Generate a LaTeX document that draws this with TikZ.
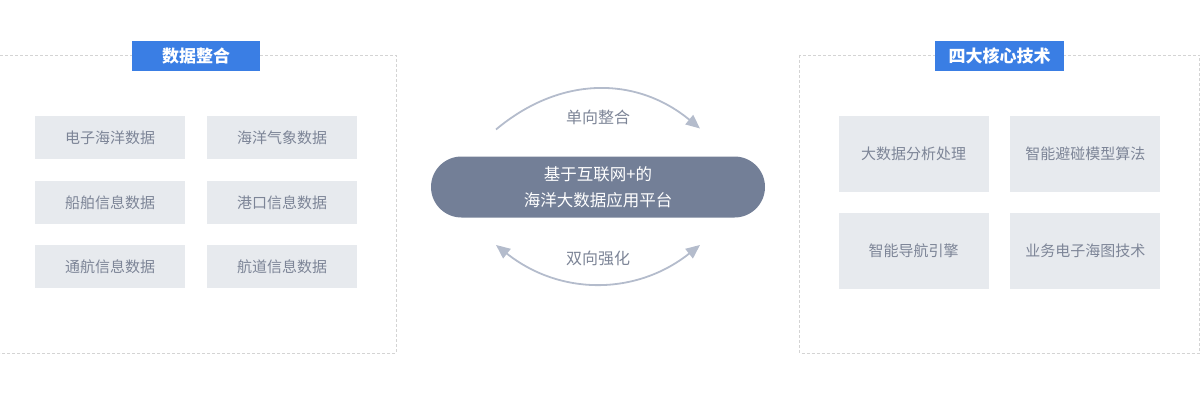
\documentclass[tikz,border=0pt]{standalone}
\usepackage{fontspec}
\setmainfont{Noto Sans CJK SC}
\usetikzlibrary{arrows.meta}

\definecolor{titleblue}{HTML}{3A7EE4}
\definecolor{boxgray}{HTML}{E7EAEE}
\definecolor{txtgray}{HTML}{7D8597}
\definecolor{platgray}{HTML}{737F97}
\definecolor{arcgray}{HTML}{B4BCCC}
\definecolor{dashgray}{HTML}{D4D4D4}

\begin{document}
\begin{tikzpicture}[
  x=1pt, y=-1pt,
  panel/.style={draw=dashgray, line width=0.8pt, dash pattern=on 3pt off 2pt},
  ttl/.style={fill=titleblue, text=white, font=\fontsize{17}{20}\selectfont\bfseries, minimum width=128pt, minimum height=30pt, inner sep=0pt},
  dbox/.style={fill=boxgray, text=txtgray, font=\fontsize{15}{18}\selectfont, minimum width=150pt, minimum height=43pt, inner sep=0pt},
  tbox/.style={dbox, minimum height=76pt},
  plat/.style={fill=platgray, text=white, rounded corners=30.5pt, minimum width=334pt, minimum height=61pt, align=center, font=\fontsize{16.5}{26}\selectfont, inner sep=0pt},
  flow/.style={draw=arcgray, line width=1.8pt, >={Triangle[length=14pt,width=12pt]}},
  lbl/.style={text=txtgray, font=\fontsize{16}{19}\selectfont},
]
\useasboundingbox (0,0) rectangle (1201,404);

% data side
\draw [panel] (0,55) -- (396,55) -- (396,353) -- (0,353);
\node [ttl] (dtitle) at (196,56) {数据整合};

\node [dbox] (d1) at (110,137.5) {电子海洋数据};
\node [dbox] (d2) at (282,137.5) {海洋气象数据};
\node [dbox] (d3) at (110,202.3) {船舶信息数据};
\node [dbox] (d4) at (282,202.3) {港口信息数据};
\node [dbox] (d5) at (110,266.7) {通航信息数据};
\node [dbox] (d6) at (282,266.7) {航道信息数据};

% platform
\node [plat] (plat) at (598,187) {基于互联网+的\\海洋大数据应用平台};

\coordinate (ua) at (496,129.5);
\coordinate (ub) at (700,128.5);
\coordinate (la) at (496,245);
\coordinate (lb) at (700,245);
\draw [flow, ->] (ua) .. controls (560,75.8) and (636,75.8) .. (ub);
\draw [flow, <->] (la) .. controls (560,295.7) and (636,295.7) .. (lb);
\node [lbl] (one) at (598,117) {单向整合};
\node [lbl] (two) at (598,258) {双向强化};

% tech side
\draw [panel] (799.5,55) rectangle (1199.5,353);
\node [ttl, minimum width=129pt] (ttitle) at (999.5,56) {四大核心技术};

\node [tbox] (t1) at (913.5,154) {大数据分析处理};
\node [tbox] (t2) at (1085.3,154) {智能避碰模型算法};
\node [tbox] (t3) at (913.5,250.7) {智能导航引擎};
\node [tbox] (t4) at (1085.3,250.7) {业务电子海图技术};

\end{tikzpicture}
\end{document}
